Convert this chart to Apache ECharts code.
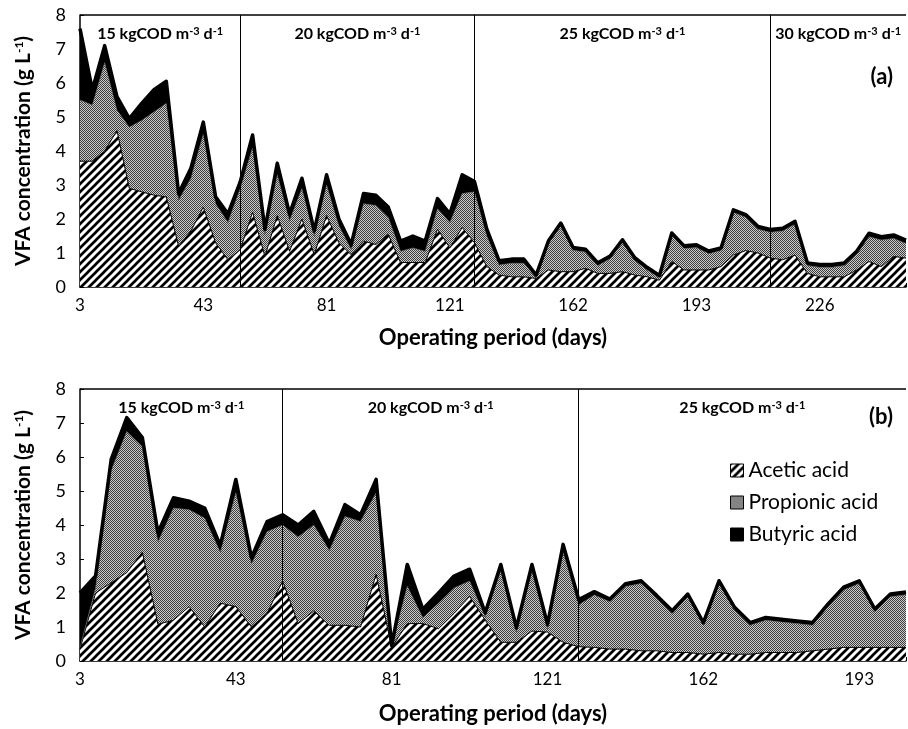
<!DOCTYPE html>
<html><head><meta charset="utf-8">
<script src="https://cdn.jsdelivr.net/npm/echarts@6/dist/echarts.min.js"></script>
<style>html,body{margin:0;padding:0;background:#fff}#c{width:908px;height:729px}</style>
</head><body><div id="c"></div>
<script>
// ---------- data ----------
const dayTicksA = ['3','43','81','121','162','193','226'];
const dayTicksB = ['3','43','81','121','162','193'];
const acidNames = ['Acetic acid','Propionic acid','Butyric acid'];
const loadsA = ['15','20','25','30'];
const loadsB = ['15','20','25'];
const breaksA = [0,13,32,56,67];   // sample index of loading-rate changes
const breaksB = [0,13,32,53];

const aceticA = [3.7,3.7,4.0,4.6,2.9,2.8,2.7,2.65,1.2,1.65,
  2.35,1.3,0.8,1.1,2.2,0.9,2.1,1.05,2.0,0.95,
  2.1,1.3,0.95,1.35,1.25,1.55,0.72,0.72,0.72,1.7,
  1.15,1.75,1.3,0.6,0.35,0.3,0.3,0.25,0.5,0.45,
  0.45,0.55,0.4,0.4,0.45,0.35,0.3,0.2,0.75,0.5,
  0.5,0.5,0.6,0.94,1.07,1.0,0.85,0.8,0.94,0.4,
  0.3,0.3,0.3,0.5,0.75,0.6,0.9,0.85];
const propionicA = [1.8,1.65,2.6,0.6,1.8,2.1,2.45,2.75,1.35,1.55,
  2.15,1.15,1.1,1.8,1.9,0.65,1.2,0.9,0.9,0.55,
  0.9,0.5,0.15,1.1,1.15,0.5,0.33,0.43,0.33,0.6,
  0.75,1.0,1.5,0.9,0.3,0.4,0.4,0.03,0.78,1.35,
  0.63,0.48,0.23,0.43,0.86,0.43,0.2,0.07,0.76,0.63,
  0.66,0.48,0.47,1.25,0.98,0.7,0.76,0.85,0.91,0.23,
  0.28,0.28,0.33,0.47,0.73,0.78,0.53,0.43];
const butyricA = [2.1,0.45,0.5,0.4,0.25,0.5,0.65,0.65,0.2,0.3,
  0.35,0.2,0.25,0.2,0.37,0.15,0.34,0.2,0.3,0.15,
  0.3,0.2,0.15,0.3,0.3,0.3,0.3,0.35,0.3,0.3,
  0.25,0.55,0.3,0.2,0.12,0.12,0.12,0.07,0.08,0.08,
  0.08,0.08,0.08,0.08,0.08,0.08,0.08,0.07,0.08,0.08,
  0.08,0.08,0.08,0.08,0.08,0.08,0.08,0.08,0.08,0.08,
  0.08,0.08,0.08,0.08,0.1,0.1,0.1,0.1];

const aceticB = [0.35,2.0,2.3,2.6,3.2,1.08,1.2,1.6,1.0,1.7,
  1.6,1.0,1.4,2.35,1.1,1.47,1.05,1.05,1.0,2.55,
  0.4,1.1,1.1,0.95,1.4,1.9,1.2,0.55,0.55,0.88,
  0.85,0.55,0.42,0.4,0.35,0.35,0.3,0.3,0.25,0.25,
  0.2,0.25,0.2,0.2,0.25,0.25,0.25,0.3,0.35,0.4,
  0.4,0.4,0.4,0.4];
const propionicB = [0.05,0.15,3.3,4.15,3.1,2.42,3.3,2.85,3.2,1.5,
  3.35,1.85,2.4,1.65,2.55,2.53,2.2,3.2,3.1,2.4,
  0.03,1.1,0.17,0.75,0.75,0.45,0.1,2.1,0.3,1.77,
  0.1,2.65,1.23,1.54,1.39,1.84,1.98,1.55,1.15,1.64,
  0.85,2.03,1.3,0.85,0.95,0.9,0.85,0.75,1.25,1.69,
  1.88,1.05,1.49,1.55];
const butyricB = [1.6,0.35,0.33,0.41,0.27,0.27,0.3,0.25,0.3,0.2,
  0.39,0.19,0.3,0.3,0.35,0.4,0.2,0.35,0.2,0.39,
  0.02,0.64,0.25,0.3,0.35,0.35,0.12,0.19,0.13,0.19,
  0.13,0.23,0.16,0.1,0.08,0.08,0.08,0.08,0.08,0.08,
  0.08,0.08,0.08,0.08,0.08,0.08,0.08,0.08,0.08,0.08,
  0.08,0.08,0.08,0.08];

// ---------- patterns ----------
function hatchCanvas(){
  const s = 8, c = document.createElement('canvas'); c.width = c.height = s;
  const g = c.getContext('2d');
  g.fillStyle = '#fff'; g.fillRect(0,0,s,s);
  g.strokeStyle = '#000'; g.lineWidth = 2.7; g.beginPath();
  g.moveTo(-1,s+1); g.lineTo(s+1,-1);
  g.moveTo(-2,2); g.lineTo(2,-2);
  g.moveTo(s-2,s+2); g.lineTo(s+2,s-2);
  g.stroke(); return c;
}
function dotCanvas(){
  const c = document.createElement('canvas'); c.width = c.height = 2;
  const g = c.getContext('2d');
  g.fillStyle = '#cccccc'; g.fillRect(0,0,2,2);
  g.fillStyle = '#3c3c3c'; g.fillRect(0,0,1,1); g.fillRect(1,1,1,1);
  return c;
}
const hatchFill = {image: hatchCanvas(), repeat: 'repeat'};
const dotFill = {image: dotCanvas(), repeat: 'repeat'};
const fills = [hatchFill, dotFill, '#000'];

const FONT = 'Lato';
const supRich = {sup: {fontSize: 12, fontWeight: 'bold', fontFamily: FONT, verticalAlign: 'top', color: '#000'}};

function panel(p, a, pr, b, ticks, breaks, loads){
  const n = a.length;
  const cats = Array.from({length: n}, (_, i) => 's' + i);
  const xAxis = {
    type: 'category', gridIndex: p, data: cats, boundaryGap: false,
    axisLine: {lineStyle: {color: '#000', width: 1.5}},
    axisTick: {show: true, inside: true, interval: 0, length: 4, lineStyle: {color: '#000'}},
    axisLabel: {interval: 9, margin: 10, fontFamily: FONT, fontSize: 17, color: '#000',
      formatter: (v, i) => (i % 10 === 0 && ticks[i / 10] !== undefined) ? ticks[i / 10] : ''},
    name: 'Operating period (days)', nameLocation: 'middle', nameGap: p === 0 ? 40 : 42,
    nameTextStyle: {fontFamily: FONT, fontWeight: 'bold', fontSize: 22, color: '#000'}
  };
  const yAxis = {
    type: 'value', gridIndex: p, min: 0, max: 8, interval: 1,
    axisLine: {show: true, lineStyle: {color: '#000', width: 1.5}},
    axisTick: {show: true, inside: true, length: 4, lineStyle: {color: '#000'}},
    splitLine: {show: false},
    axisLabel: {margin: 14, fontFamily: FONT, fontSize: 18, color: '#000'},
    name: 'VFA concentration (g L{sup|-1})', nameLocation: 'middle', nameRotate: 90, nameGap: 46,
    nameTextStyle: {fontFamily: FONT, fontWeight: 'bold', fontSize: 21, color: '#000', rich: supRich}
  };
  const vals = [a, pr, b];
  const series = vals.map((d, k) => ({
    name: acidNames[k], type: 'line', xAxisIndex: p, yAxisIndex: p, stack: 'vfa' + p,
    data: d, symbol: 'none', showSymbol: false, silent: true,
    lineStyle: k === 2 ? {color: '#000', width: 3.5, join: 'round'} : (k === 0 ? {color: '#000', width: 1} : {color: '#555', width: 0.6}),
    itemStyle: {color: k === 0 ? '#fff' : (k === 1 ? '#8a8a8a' : '#000')},
    areaStyle: {color: fills[k], opacity: 1}
  }));
  const divs = breaks.slice(1, -1).map(x => ({xAxis: x, lineStyle: {width: 1}}));
  divs.push({yAxis: 8, lineStyle: {width: 1.5}});
  series[2].markLine = {silent: true, symbol: 'none', label: {show: false},
    lineStyle: {color: '#000', type: 'solid'}, data: divs, animation: false};
  series[2].markArea = {silent: true, itemStyle: {color: 'rgba(0,0,0,0)'},
    label: {show: true, position: 'insideTop', distance: p === 0 ? 11 : 11,
      fontFamily: FONT, fontWeight: 'bold', fontSize: 16, color: '#000',
      formatter: q => q.name + ' kgCOD m{sup|-3} d{sup|-1}', rich: {sup: {fontSize: 11, fontWeight: 'bold', fontFamily: FONT, verticalAlign: 'top', color: '#000'}}},
    data: loads.map((l, k) => [{xAxis: breaks[k], name: l}, {xAxis: breaks[k + 1]}])};
  return {xAxis, yAxis, series};
}

const pA = panel(0, aceticA, propionicA, butyricA, dayTicksA, breaksA, loadsA);
const pB = panel(1, aceticB, propionicB, butyricB, dayTicksB, breaksB, loadsB);

const chart = echarts.init(document.getElementById('c'), null, {renderer: 'canvas'});
chart.setOption({
  animation: false,
  backgroundColor: '#fff',
  textStyle: {fontFamily: FONT},
  title: [
    {text: '(a)', right: 10, top: 61, textStyle: {fontFamily: FONT, fontWeight: 'bold', fontSize: 22, color: '#000'}},
    {text: '(b)', right: 10, top: 401, textStyle: {fontFamily: FONT, fontWeight: 'bold', fontSize: 22, color: '#000'}}
  ],
  grid: [
    {left: 80, top: 15, width: 826, height: 272},
    {left: 80, top: 389, width: 826, height: 272}
  ],
  legend: {
    orient: 'vertical', left: 725, top: 455, itemWidth: 13, itemHeight: 13, itemGap: 11,
    selectedMode: false,
    textStyle: {fontFamily: FONT, fontSize: 21, color: '#000'},
    data: acidNames.map((nm, k) => ({name: nm, icon: 'rect',
      itemStyle: {color: fills[k], borderColor: '#000', borderWidth: 1}}))
  },
  xAxis: [pA.xAxis, pB.xAxis],
  yAxis: [pA.yAxis, pB.yAxis],
  series: [...pA.series, ...pB.series]
});
</script></body></html>
